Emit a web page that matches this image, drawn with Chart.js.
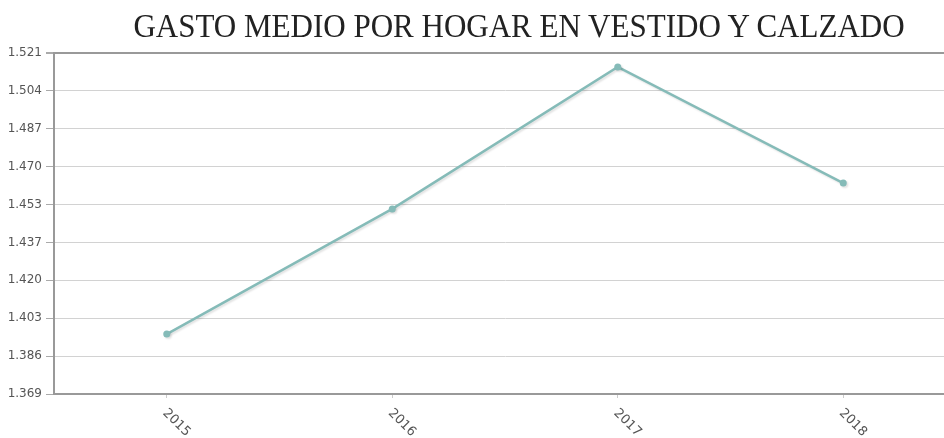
<!DOCTYPE html>
<html>
<head>
<meta charset="utf-8">
<script src="https://cdn.jsdelivr.net/npm/chart.js@4"></script>
<style>
    html, body { margin: 0; padding: 0; background: #fff; overflow: hidden; }
    #wrap { position: absolute; left: 0; top: 0; width: 960px; height: 438px; }
    #title {
        position: absolute; left: 0; top: 8px; width: 1038px; text-align: center;
        font-family: "Liberation Serif", "Times New Roman", serif; font-size: 33px;
        color: #222; white-space: nowrap; transform: scaleX(0.94); transform-origin: 519px 0;
    }
</style>
</head>
<body>
<div id="wrap">
    <canvas id="gastoChart" width="960" height="438"></canvas>
</div>
<div id="title">GASTO MEDIO POR HOGAR EN VESTIDO Y CALZADO</div>
<script>
    // Datos
    const years = ['2015', '2016', '2017', '2018'];
    const gasto = [1395.7, 1451.5, 1514.8, 1463.0];
    const yTickValues = [1369, 1385.89, 1402.78, 1419.67, 1436.56, 1453.44, 1470.33, 1487.22, 1504.11, 1521];
    const yTickLabels = ['1.369', '1.386', '1.403', '1.420', '1.437', '1.453', '1.470', '1.487', '1.504', '1.521'];

    const lineColor = '#85bbb8';

    // Rotated year labels (45deg clockwise, as in the original)
    const rotatedLabels = {
        id: 'rotatedLabels',
        afterDraw(chart) {
            const ctx = chart.ctx;
            const xScale = chart.scales.x;
            ctx.save();
            ctx.font = '13px "DejaVu Sans", sans-serif';
            ctx.fillStyle = '#555';
            ctx.textAlign = 'left';
            ctx.textBaseline = 'middle';
            years.forEach(function(label, i) {
                const x = xScale.getPixelForValue(i);
                ctx.save();
                ctx.translate(x - 2, xScale.top + 17);
                ctx.rotate(Math.PI / 4);
                ctx.fillText(label, 0, 0);
                ctx.restore();
            });
            ctx.restore();
        }
    };

    // Soft shadow under line and points
    const lineShadow = {
        id: 'lineShadow',
        beforeDatasetsDraw(chart) {
            const ctx = chart.ctx;
            ctx.save();
            ctx.shadowColor = 'rgba(0,0,0,0.12)';
            ctx.shadowBlur = 2;
            ctx.shadowOffsetX = 1.5;
            ctx.shadowOffsetY = 1.5;
        },
        afterDatasetsDraw(chart) {
            chart.ctx.restore();
        }
    };

    const ctx = document.getElementById('gastoChart').getContext('2d');
    new Chart(ctx, {
        type: 'line',
        data: {
            labels: years,
            datasets: [{
                label: 'Gasto medio',
                data: gasto,
                borderColor: lineColor,
                backgroundColor: lineColor,
                borderWidth: 2.5,
                pointRadius: 3.5,
                pointBackgroundColor: lineColor,
                pointBorderWidth: 0,
                tension: 0,
                fill: false
            }]
        },
        options: {
            responsive: false,
            animation: false,
            layout: { padding: { top: 53, right: 3, left: 0, bottom: 0 } },
            plugins: {
                legend: { display: false },
                title: { display: false },
                tooltip: { enabled: false }
            },
            scales: {
                x: {
                    offset: true,
                    grid: {
                        drawOnChartArea: false,
                        tickLength: 4,
                        tickColor: '#ccc'
                    },
                    border: { display: true, color: '#999', width: 2 },
                    ticks: { display: false },
                    afterFit: function(scale) { scale.height = 44; }
                },
                y: {
                    min: 1369,
                    max: 1521,
                    afterBuildTicks: function(scale) {
                        scale.ticks = yTickValues.map(function(v) { return { value: v }; });
                    },
                    afterFit: function(scale) { scale.width = 54; },
                    grid: {
                        color: function(c) { return c.index === yTickValues.length - 1 ? '#999' : '#d2d2d2'; },
                        lineWidth: function(c) { return c.index === yTickValues.length - 1 ? 2 : 1; },
                        tickLength: 8,
                        tickColor: '#aaa'
                    },
                    border: { display: true, color: '#999', width: 2 },
                    ticks: {
                        padding: 4,
                        color: '#555',
                        font: { family: 'DejaVu Sans', size: 12 },
                        callback: function(value, index) { return yTickLabels[index]; }
                    }
                }
            }
        },
        plugins: [lineShadow, rotatedLabels]
    });
</script>
</body>
</html>
